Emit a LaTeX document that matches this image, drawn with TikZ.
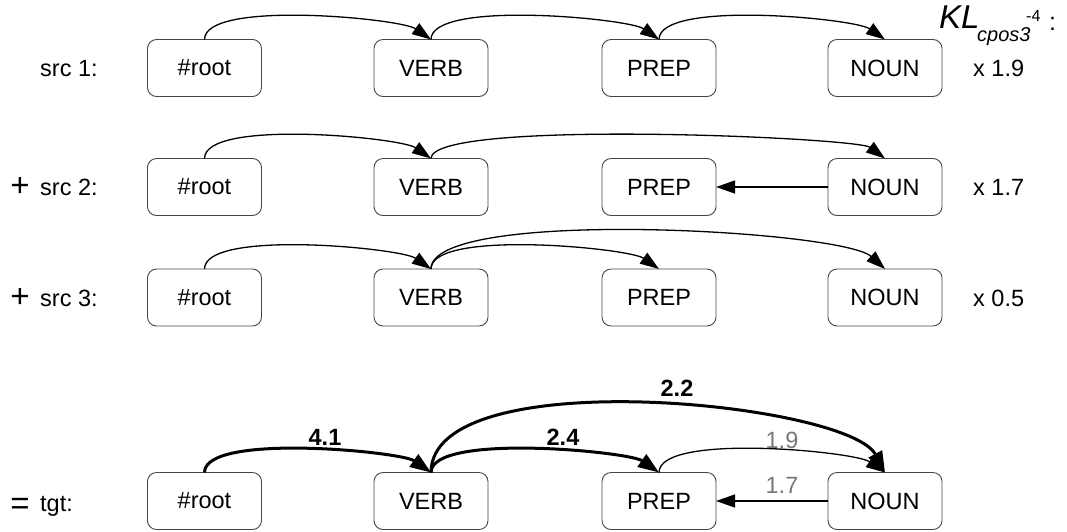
\documentclass[tikz,border=0pt]{standalone}
\usepackage{fontspec}
\setmainfont{Liberation Sans}
\usetikzlibrary{arrows.meta,calc}
\definecolor{boxgray}{RGB}{70,70,70}
\definecolor{labgray}{RGB}{120,120,120}
% dependency arc from the top of #2 to the top of #3:
% #4 rise of first control, #5 rise and #6 back-off of second control
\newcommand\deparc[6]{\draw[#1] (#2.north) .. controls ($(#2.north)+(0,-#4)$) and ($(#3.north)+(-#6,-#5)$) .. (#3.north);}
\begin{document}
\begin{tikzpicture}[x=1pt,y=-1pt,
  tok/.style={draw=boxgray, line width=0.9pt, rounded corners=9pt,
    minimum width=114pt, minimum height=57pt, inner sep=0pt, outer sep=0pt,
    font=\fontsize{23.5}{27}\selectfont},
  lab/.style={font=\fontsize{23.5}{27}\selectfont, anchor=base west, inner sep=0pt},
  sym/.style={font=\fontsize{33}{36}\selectfont, inner sep=0pt},
  dep/.style={line width=1.3pt, -{Triangle[length=19pt,width=13pt]}},
  heavy/.style={line width=3pt, -{Triangle[length=21pt,width=15pt]}},
  wlab/.style={font=\bfseries\fontsize{23.5}{27}\selectfont, inner sep=0pt},
  glab/.style={text=labgray, font=\fontsize{23.5}{27}\selectfont, inner sep=0pt},
]
\useasboundingbox (0,0) rectangle (1067,531);

% ---- heading
\node[inner sep=0pt, anchor=base west, font=\itshape\fontsize{33}{36}\selectfont] (klmain) at (939,28) {KL};
\node[inner sep=0pt, anchor=base west, font=\itshape\fontsize{20}{22}\selectfont] (klsub) at (977,41) {cpos3};
\node[inner sep=0pt, anchor=base west, font=\fontsize{16}{18}\selectfont] (klsup) at (1026,21) {-4};
\node[inner sep=0pt, anchor=base west, font=\fontsize{25}{28}\selectfont] (klcolon) at (1049,30) {:};

% ---- row 1: src 1
\node[lab] (l1) at (40,76) {src 1:};
\node[tok] (a1) at (204.5,68) {\#root};
\node[tok] (b1) at (431,68) {VERB};
\node[tok] (c1) at (659,68) {PREP};
\node[tok] (d1) at (885,68) {NOUN};
\node[lab] (w1) at (973,76) {x 1.9};
\deparc{dep}{a1}{b1}{40}{21}{30}
\deparc{dep}{b1}{c1}{40}{21}{30}
\deparc{dep}{c1}{d1}{40}{21}{30}

% ---- row 2: src 2
\node[sym] (p2) at (20,187) {+};
\node[lab] (l2) at (40,195) {src 2:};
\node[tok] (a2) at (204.5,187) {\#root};
\node[tok] (b2) at (431,187) {VERB};
\node[tok] (c2) at (659,187) {PREP};
\node[tok] (d2) at (885,187) {NOUN};
\node[lab] (w2) at (973,195) {x 1.7};
\deparc{dep}{a2}{b2}{40}{21}{30}
\deparc{dep}{b2}{d2}{40}{21}{28}
\draw[dep] (d2.west) -- (c2.east);

% ---- row 3: src 3
\node[sym] (p3) at (20,298) {+};
\node[lab] (l3) at (40,306) {src 3:};
\node[tok] (a3) at (204.5,297.5) {\#root};
\node[tok] (b3) at (431,297.5) {VERB};
\node[tok] (c3) at (659,297.5) {PREP};
\node[tok] (d3) at (885,297.5) {NOUN};
\node[lab] (w3) at (973,306) {x 0.5};
\deparc{dep}{a3}{b3}{40}{21}{30}
\deparc{dep}{b3}{c3}{40}{21}{30}
\deparc{dep}{b3}{d3}{62}{39}{43}

% ---- row 4: tgt
\node[sym] (p4) at (20,506) {=};
\node[lab] (l4) at (40,511) {tgt:};
\node[tok] (a4) at (204.5,501) {\#root};
\node[tok] (b4) at (431,501) {VERB};
\node[tok] (c4) at (659,501) {PREP};
\node[tok] (d4) at (885,501) {NOUN};
\deparc{heavy}{a4}{b4}{40}{21}{30}
\deparc{heavy}{b4}{c4}{40}{21}{30}
\deparc{heavy}{b4}{d4}{112}{70}{37}
\deparc{dep}{c4}{d4}{40}{21}{30}
\draw[dep] (d4.west) -- (c4.east);
\node[wlab] (e41) at (325,437) {4.1};
\node[wlab] (e24) at (563,437) {2.4};
\node[wlab] (e22) at (677,388) {2.2};
\node[glab] (e19) at (782,440) {1.9};
\node[glab] (e17) at (782,485) {1.7};
\end{tikzpicture}
\end{document}
